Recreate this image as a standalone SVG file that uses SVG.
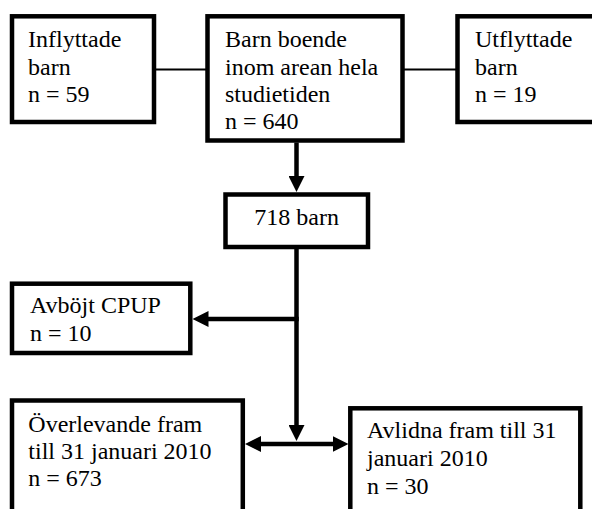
<svg xmlns="http://www.w3.org/2000/svg" width="592" height="509" viewBox="0 0 592 509">
<style>
.box{fill:#fff;stroke:#000;stroke-width:4.5}
.t{font-family:"Liberation Serif","Times New Roman",serif;font-size:24px;fill:#000}
.thin{stroke:#000;stroke-width:2;fill:none}
.thick{stroke:#000;stroke-width:4.5;fill:none}
</style>
<defs>
<marker id="ah" viewBox="0 0 16 16" markerWidth="16" markerHeight="16" refX="8" refY="8" markerUnits="userSpaceOnUse" orient="auto-start-reverse">
<path d="M0,0 L16,8 L0,16 z" fill="#000"/>
</marker>
</defs>
<rect width="592" height="509" fill="#fff"/>
<g id="connectors">
<line class="thin" x1="154" y1="69.5" x2="207.5" y2="69.5"/>
<line class="thin" x1="402.5" y1="69.5" x2="457.5" y2="69.5"/>
<line class="thick" x1="296.5" y1="142.5" x2="296.5" y2="184" marker-end="url(#ah)"/>
<line class="thick" x1="296.5" y1="247" x2="296.5" y2="433" marker-end="url(#ah)"/>
<line class="thick" x1="298.7" y1="319" x2="200.5" y2="319" marker-end="url(#ah)"/>
<line class="thick" x1="253" y1="444" x2="340.5" y2="444" marker-start="url(#ah)" marker-end="url(#ah)"/>
</g>
<g id="inflyttade">
<rect class="box" x="12" y="16.3" width="142" height="105.7"/>
<text class="t" x="28" y="46.7">Inflyttade</text>
<text class="t" x="28" y="74.5">barn</text>
<text class="t" x="28" y="101.7">n = 59</text>
</g>
<g id="barn-boende">
<rect class="box" x="207.5" y="16.3" width="195" height="124.2"/>
<text class="t" x="225" y="46.7">Barn boende</text>
<text class="t" x="225" y="74.5">inom arean hela</text>
<text class="t" x="225" y="101.7">studietiden</text>
<text class="t" x="225" y="128.5">n = 640</text>
</g>
<g id="utflyttade">
<rect class="box" x="457.5" y="16.3" width="140" height="105.7"/>
<text class="t" x="475" y="46.7">Utflyttade</text>
<text class="t" x="475" y="74.5">barn</text>
<text class="t" x="475" y="101.7">n = 19</text>
</g>
<g id="barn718">
<rect class="box" x="225.5" y="194.5" width="142.5" height="52.5"/>
<text class="t" x="296.7" y="225" text-anchor="middle">718 barn</text>
</g>
<g id="avbojt">
<rect class="box" x="12" y="283.7" width="178.3" height="69.3"/>
<text class="t" x="30" y="313.3">Avböjt CPUP</text>
<text class="t" x="30" y="341.3">n = 10</text>
</g>
<g id="overlevande">
<rect class="box" x="12" y="400.5" width="230.8" height="120"/>
<text class="t" x="28.3" y="431.7">Överlevande fram</text>
<text class="t" x="28.3" y="458.5">till 31 januari 2010</text>
<text class="t" x="28.3" y="486">n = 673</text>
</g>
<g id="avlidna">
<rect class="box" x="350.3" y="408.3" width="230" height="120"/>
<text class="t" x="367" y="438.3">Avlidna fram till 31</text>
<text class="t" x="367" y="466">januari 2010</text>
<text class="t" x="367" y="494">n = 30</text>
</g>
</svg>
